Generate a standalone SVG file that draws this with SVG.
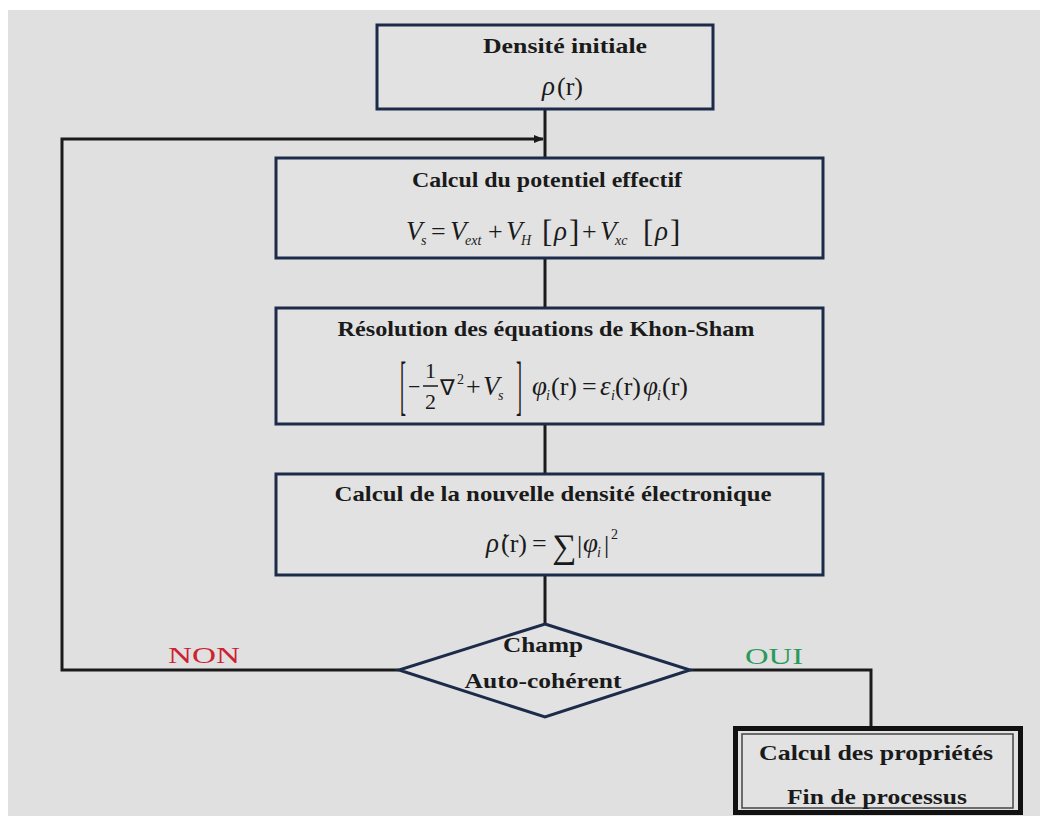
<svg xmlns="http://www.w3.org/2000/svg" width="1040" height="816" viewBox="0 0 1040 816">
<defs>
<style>
.box{fill:#e2e2e2;stroke:#1c2b4a;stroke-width:3}
.ln{fill:none;stroke:#1a1a1a;stroke-width:3}
.t{font-family:"Liberation Serif","Times New Roman",serif;font-weight:bold;font-size:21px;fill:#1a1a1a;text-anchor:middle}
.m{font-family:"Liberation Serif","Times New Roman",serif;font-style:italic;font-size:27px;fill:#1a1a1a}
.r{font-family:"Liberation Serif","Times New Roman",serif;font-size:26px;fill:#1a1a1a}
.s{font-family:"Liberation Serif","Times New Roman",serif;font-style:italic;font-size:14px;fill:#1a1a1a}
.lab{font-family:"Liberation Serif","Times New Roman",serif;font-size:24px}
</style>
<marker id="arr" markerWidth="10" markerHeight="8" refX="9" refY="4" orient="auto" markerUnits="userSpaceOnUse">
<path d="M0,0 L10,4 L0,8 Z" fill="#1a1a1a"/>
</marker>
</defs>
<rect x="0" y="0" width="1040" height="816" fill="#ffffff"/>
<rect x="8" y="10" width="1032" height="806" fill="#e0e0e0"/>

<g id="connectors">
<line class="ln" x1="545" y1="109" x2="545" y2="158"/>
<line class="ln" x1="545" y1="258" x2="545" y2="308"/>
<line class="ln" x1="545" y1="424" x2="545" y2="474"/>
<line class="ln" x1="545" y1="575" x2="545" y2="624"/>
<polyline class="ln" points="399,670 62,670 62,139 543,139" marker-end="url(#arr)"/>
<polyline class="ln" points="690,670 871,670 871,726"/>
<text class="lab" x="204" y="663" text-anchor="middle" fill="#cc2233" textLength="72" lengthAdjust="spacingAndGlyphs">NON</text>
<text class="lab" x="774" y="664" text-anchor="middle" fill="#2a9a5a" textLength="58" lengthAdjust="spacingAndGlyphs">OUI</text>
</g>

<g id="n1">
<rect class="box" x="377" y="25" width="336" height="84"/>
<text class="t" x="565" y="53" textLength="164" lengthAdjust="spacingAndGlyphs">Densité initiale</text>
<text class="m" x="542" y="95">ρ</text><text class="r" x="557" y="95">(r)</text>
</g>

<g id="n2">
<rect class="box" x="276" y="158" width="547" height="100"/>
<text class="t" x="547" y="187" textLength="270" lengthAdjust="spacingAndGlyphs">Calcul du potentiel effectif</text>
<text class="m" x="406" y="240">V</text><text class="s" x="421" y="245">s</text>
<text class="r" x="431" y="240">=</text>
<text class="m" x="450" y="240">V</text><text class="s" x="465" y="245">ext</text>
<text class="r" x="488" y="240">+</text>
<text class="m" x="506" y="240">V</text><text class="s" x="521" y="245">H</text>
<text class="r" x="542" y="242" style="font-size:31px">[</text><text class="m" x="554" y="240">ρ</text><text class="r" x="569" y="242" style="font-size:31px">]</text>
<text class="r" x="582" y="240">+</text>
<text class="m" x="600" y="240">V</text><text class="s" x="615" y="245">xc</text>
<text class="r" x="643" y="242" style="font-size:31px">[</text><text class="m" x="655" y="240">ρ</text><text class="r" x="670" y="242" style="font-size:31px">]</text>
</g>

<g id="n3">
<rect class="box" x="276" y="308" width="547" height="116"/>
<text class="t" x="546" y="336" textLength="417" lengthAdjust="spacingAndGlyphs">Résolution des  équations de Khon-Sham</text>
<text class="r" transform="translate(400,407) scale(0.6,2.2)" style="font-size:30px">[</text>
<text class="r" x="408" y="394" style="font-size:22px">−</text>
<text class="r" x="425" y="378" style="font-size:22px">1</text>
<line x1="423" y1="386" x2="438" y2="386" stroke="#1a1a1a" stroke-width="1.5"/>
<text class="r" x="425" y="409" style="font-size:22px">2</text>
<text class="r" x="440" y="395" style="font-size:22px">∇</text><text class="r" x="457" y="384" style="font-size:14px">2</text>
<text class="r" x="466" y="395">+</text>
<text class="m" x="483" y="395">V</text><text class="s" x="498" y="400">s</text>
<text class="r" transform="translate(516,407) scale(0.6,2.2)" style="font-size:30px">]</text>
<text class="m" x="532" y="395">φ</text><text class="s" x="546" y="400">i</text>
<text class="r" x="551" y="395">(r)</text>
<text class="r" x="582" y="395">=</text>
<text class="m" x="600" y="395">ε</text><text class="s" x="611" y="400">i</text>
<text class="r" x="615" y="395">(r)</text>
<text class="m" x="643" y="395">φ</text><text class="s" x="657" y="400">i</text>
<text class="r" x="662" y="395">(r)</text>
</g>

<g id="n4">
<rect class="box" x="276" y="474" width="547" height="101"/>
<text class="t" x="553" y="501" textLength="437" lengthAdjust="spacingAndGlyphs">Calcul de la nouvelle densité électronique</text>
<text class="m" x="486" y="552">ρ̇</text>
<text class="r" x="501" y="552">(r)</text>
<text class="r" x="532" y="552">=</text>
<text class="r" x="552" y="558" style="font-size:34px">∑</text>
<text class="r" x="577" y="553">|</text>
<text class="m" x="583" y="552">φ</text><text class="s" x="597" y="557">i</text>
<text class="r" x="604" y="553">|</text>
<text class="r" x="611" y="539" style="font-size:14px">2</text>
</g>

<g id="n5">
<polygon points="545,624 690,670 545,717 399,670" fill="#e2e2e2" stroke="#1c2b4a" stroke-width="3"/>
<text class="t" x="543" y="652" textLength="80" lengthAdjust="spacingAndGlyphs">Champ</text>
<text class="t" x="543" y="688" textLength="157" lengthAdjust="spacingAndGlyphs">Auto-cohérent</text>
</g>

<g id="n6">
<rect x="735.5" y="728.5" width="285" height="84" fill="#e2e2e2" stroke="#111" stroke-width="5"/>
<rect x="742" y="734" width="271" height="74" fill="none" stroke="#444" stroke-width="1.5"/>
<text class="t" x="876" y="760" textLength="234" lengthAdjust="spacingAndGlyphs">Calcul des propriétés</text>
<text class="t" x="877" y="804" textLength="180" lengthAdjust="spacingAndGlyphs">Fin de processus</text>
</g>
</svg>
